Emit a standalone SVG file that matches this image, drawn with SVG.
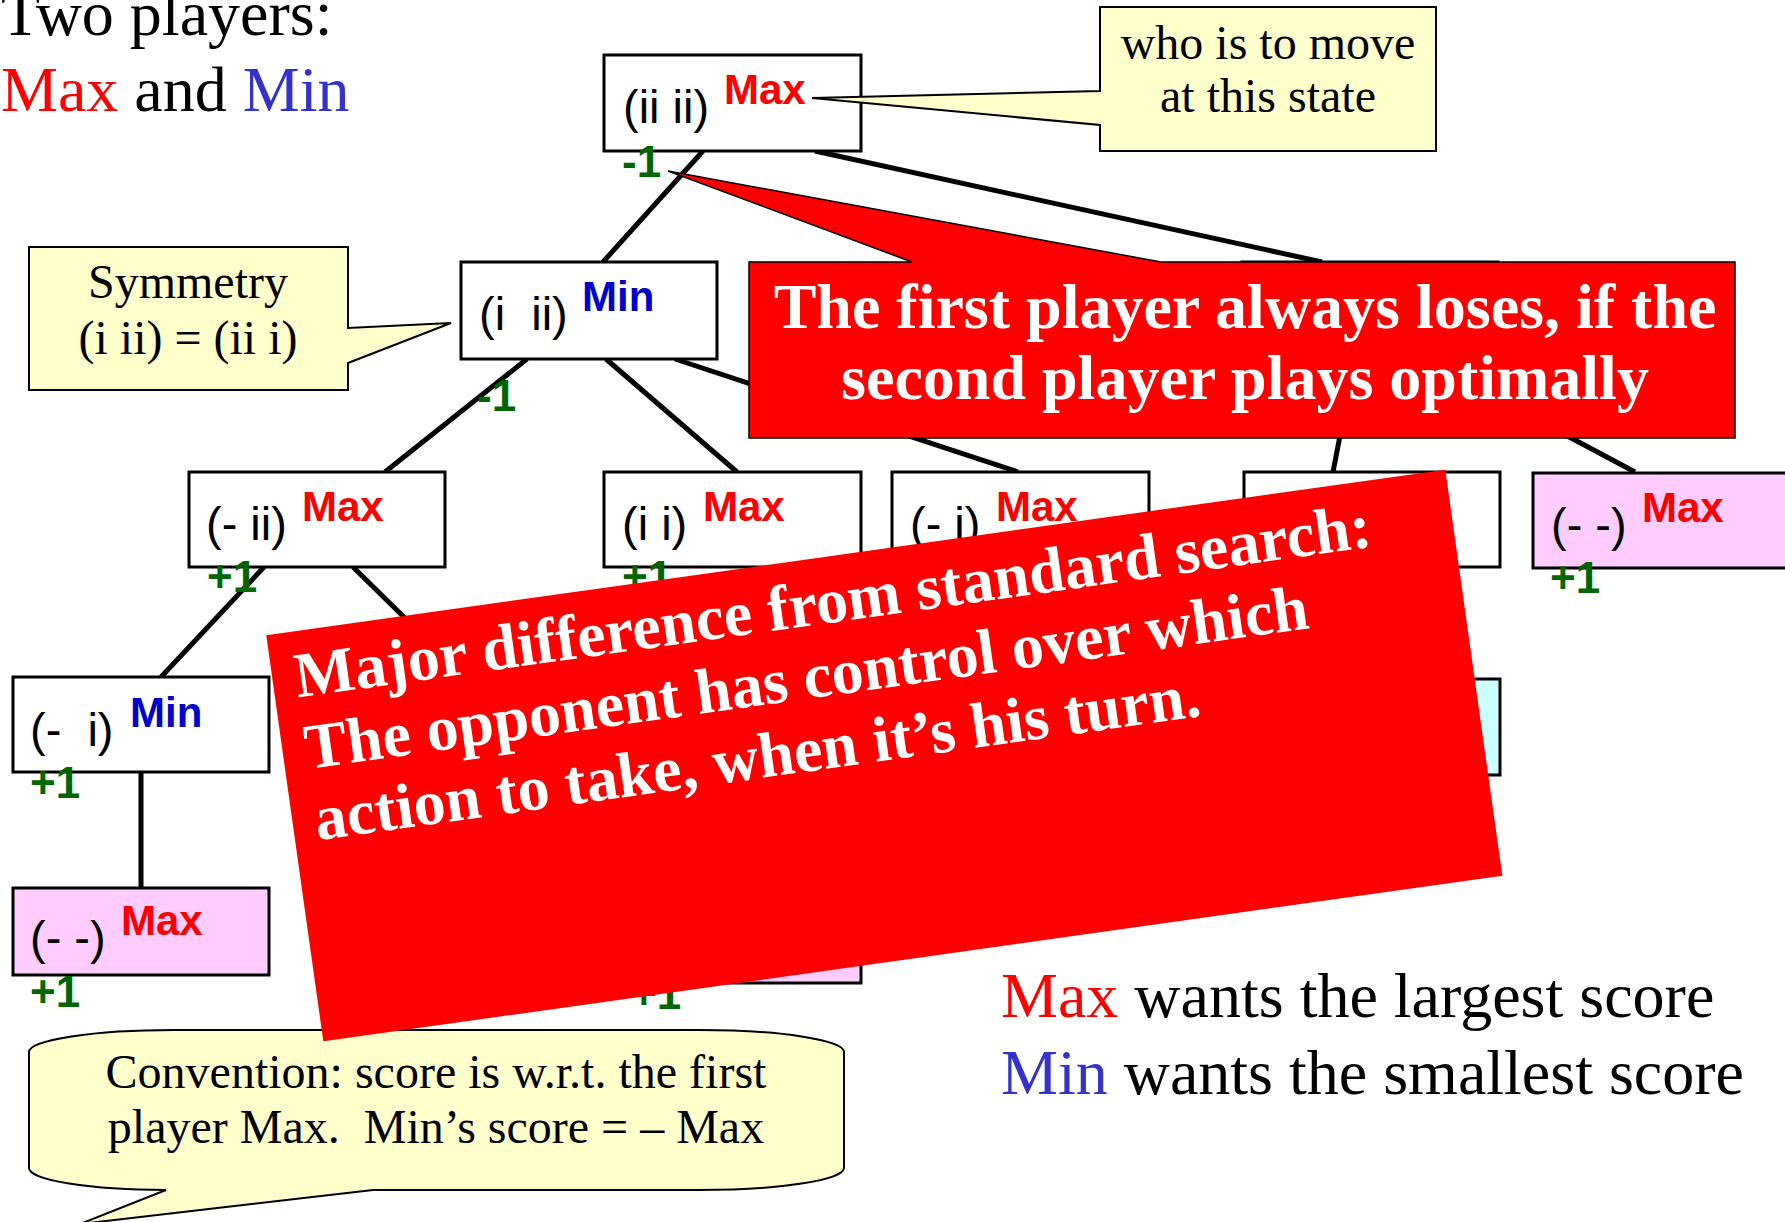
<svg xmlns="http://www.w3.org/2000/svg" width="1785" height="1222" viewBox="0 0 1785 1222">
  <style>
    .box { stroke: #000; stroke-width: 3; fill: #FFFFFF; }
    .pink { fill: #FFCCFF; }
    .cyan { fill: #CCFFFF; }
    .st { font-family: "Liberation Sans", Arial, sans-serif; font-size: 47px; fill: #000; }
    .mx { font-family: "Liberation Sans", Arial, sans-serif; font-size: 42px; font-weight: bold; fill: #FF0000; }
    .mn { font-family: "Liberation Sans", Arial, sans-serif; font-size: 42px; font-weight: bold; fill: #0000CC; }
    .sc { font-family: "Liberation Sans", Arial, sans-serif; font-size: 44px; font-weight: bold; fill: #006600; }
    .edge { stroke: #000; stroke-width: 5; stroke-linecap: butt; fill: none; }
    .note { fill: #FFFFCC; stroke: #000; stroke-width: 2; }
    .nt { font-family: "Liberation Serif", "Times New Roman", serif; font-size: 48px; fill: #000; text-anchor: middle; }
    .big { font-family: "Liberation Serif", "Times New Roman", serif; font-size: 64px; fill: #000; }
    .warn { fill: #FF0000; }
    .wt { font-family: "Liberation Serif", "Times New Roman", serif; font-size: 64px; font-weight: bold; fill: #FFFFFF; }
    .red { fill: #FF0000; }
    .blue { fill: #3333CC; }
  </style>

  <!-- heading -->
  <g id="heading">
    <text class="big" x="1" y="35">Two players:</text>
    <text class="big" x="1" y="111"><tspan class="red">Max</tspan> and <tspan class="blue">Min</tspan></text>
  </g>

  <!-- tree edges -->
  <g id="connectors">
    <line class="edge" x1="703" y1="151" x2="603" y2="262"/>
    <line class="edge" x1="815" y1="151" x2="1322" y2="262"/>
    <line class="edge" x1="527" y1="359" x2="385" y2="472"/>
    <line class="edge" x1="606" y1="359" x2="737" y2="472"/>
    <line class="edge" x1="675" y1="359" x2="1018" y2="472"/>
    <line class="edge" x1="1355" y1="358" x2="1333" y2="472"/>
    <line class="edge" x1="1421" y1="358" x2="1635" y2="472"/>
    <line class="edge" x1="264" y1="567" x2="161" y2="677"/>
    <line class="edge" x1="353" y1="567" x2="465" y2="677"/>
    <line class="edge" x1="141" y1="772" x2="141" y2="888"/>
  </g>

  <!-- tree nodes -->
  <g id="n-root">
    <rect class="box" x="604" y="55" width="257" height="96"/>
    <text class="st" x="623" y="123">(ii ii)</text>
    <text class="mx" x="724" y="104">Max</text>
    <text class="sc" x="622" y="177">-1</text>
  </g>
  <g id="n-i-ii">
    <rect class="box" x="461" y="262" width="256" height="97"/>
    <text class="st" x="479" y="330">(i&#160; ii)</text>
    <text class="mn" x="582" y="311">Min</text>
    <text class="sc" x="477" y="411">-1</text>
  </g>
  <g id="n-ii-x">
    <rect class="box" x="1242" y="262" width="256" height="96"/>
  </g>
  <g id="n-x-ii">
    <rect class="box" x="189" y="472" width="256" height="95"/>
    <text class="st" x="206" y="540">(- ii)</text>
    <text class="mx" x="302" y="521">Max</text>
    <text class="sc" x="207" y="592">+1</text>
  </g>
  <g id="n-i-i">
    <rect class="box" x="604" y="472" width="257" height="95"/>
    <text class="st" x="622" y="540">(i i)</text>
    <text class="mx" x="703" y="521">Max</text>
    <text class="sc" x="622" y="592">+1</text>
  </g>
  <g id="n-x-i-max">
    <rect class="box" x="892" y="472" width="257" height="95"/>
    <text class="st" x="910" y="540">(- i)</text>
    <text class="mx" x="996" y="521">Max</text>
  </g>
  <g id="n-row3-4">
    <rect class="box" x="1244" y="472" width="256" height="95"/>
  </g>
  <g id="n-xx-top">
    <rect class="box pink" x="1533" y="473" width="260" height="95"/>
    <text class="st" x="1551" y="541">(- -)</text>
    <text class="mx" x="1642" y="522">Max</text>
    <text class="sc" x="1550" y="593">+1</text>
  </g>
  <g id="n-x-i-min">
    <rect class="box" x="13" y="677" width="256" height="95"/>
    <text class="st" x="30" y="746">(-&#160; i)</text>
    <text class="mn" x="130" y="727">Min</text>
    <text class="sc" x="30" y="798">+1</text>
  </g>
  <g id="n-row4-cyan">
    <rect class="box cyan" x="1244" y="679" width="256" height="96"/>
  </g>
  <g id="n-xx-left">
    <rect class="box pink" x="13" y="888" width="256" height="87"/>
    <text class="st" x="30" y="954">(- -)</text>
    <text class="mx" x="121" y="935">Max</text>
    <text class="sc" x="30" y="1007">+1</text>
  </g>
  <g id="n-xx-mid">
    <rect class="box pink" x="604" y="896" width="257" height="87"/>
    <text class="sc" x="631" y="1009">+1</text>
  </g>

  <!-- yellow notes -->
  <g id="note-turn">
    <path class="note" d="M1100,7 H1436 V151 H1100 V125 L812,98 L1100,91 Z"/>
    <text class="nt" x="1268" y="59">who is to move</text>
    <text class="nt" x="1268" y="112">at this state</text>
  </g>
  <g id="note-symmetry">
    <path class="note" d="M29,247 H348 V328 L451,323 L348,363 V390 H29 Z"/>
    <text class="nt" x="188" y="298">Symmetry</text>
    <text class="nt" x="188" y="354">(i ii) = (ii i)</text>
  </g>
  <g id="note-convention">
    <path class="note" d="M29,1052 A145 22 0 0 1 174,1030 L699,1030 A145 22 0 0 1 844,1052 L844,1168 A145 22 0 0 1 699,1190 L373,1190 L80,1224 L166,1190 A137 22 0 0 1 29,1168 Z"/>
    <text class="nt" x="436" y="1088">Convention: score is w.r.t. the first</text>
    <text class="nt" x="436" y="1143" xml:space="preserve">player Max.  Min’s score = – Max</text>
  </g>

  <!-- goals -->
  <g id="goals">
    <text class="big" x="1001" y="1017"><tspan class="red">Max</tspan> wants the largest score</text>
    <text class="big" x="1001" y="1094"><tspan class="blue">Min</tspan> wants the smallest score</text>
  </g>

  <!-- red remarks -->
  <g id="note-first-player">
    <path class="warn" stroke="#000" stroke-width="1.5" d="M749,262 H912 L668,171 L1161,262 H1735 V438 H749 Z"/>
    <text class="wt" x="1245" y="328" text-anchor="middle">The first player always loses, if the</text>
    <text class="wt" x="1245" y="399" text-anchor="middle">second player plays optimally</text>
  </g>
  <g id="note-difference" transform="translate(884.3,755.5) rotate(-8)">
    <rect class="warn" x="-595.3" y="-205" width="1190.6" height="410"/>
    <text class="wt" x="-573" y="-139">Major difference from standard search:</text>
    <text class="wt" x="-573" y="-67">The opponent has control over which</text>
    <text class="wt" x="-573" y="5">action to take, when it’s his turn.</text>
  </g>
</svg>
